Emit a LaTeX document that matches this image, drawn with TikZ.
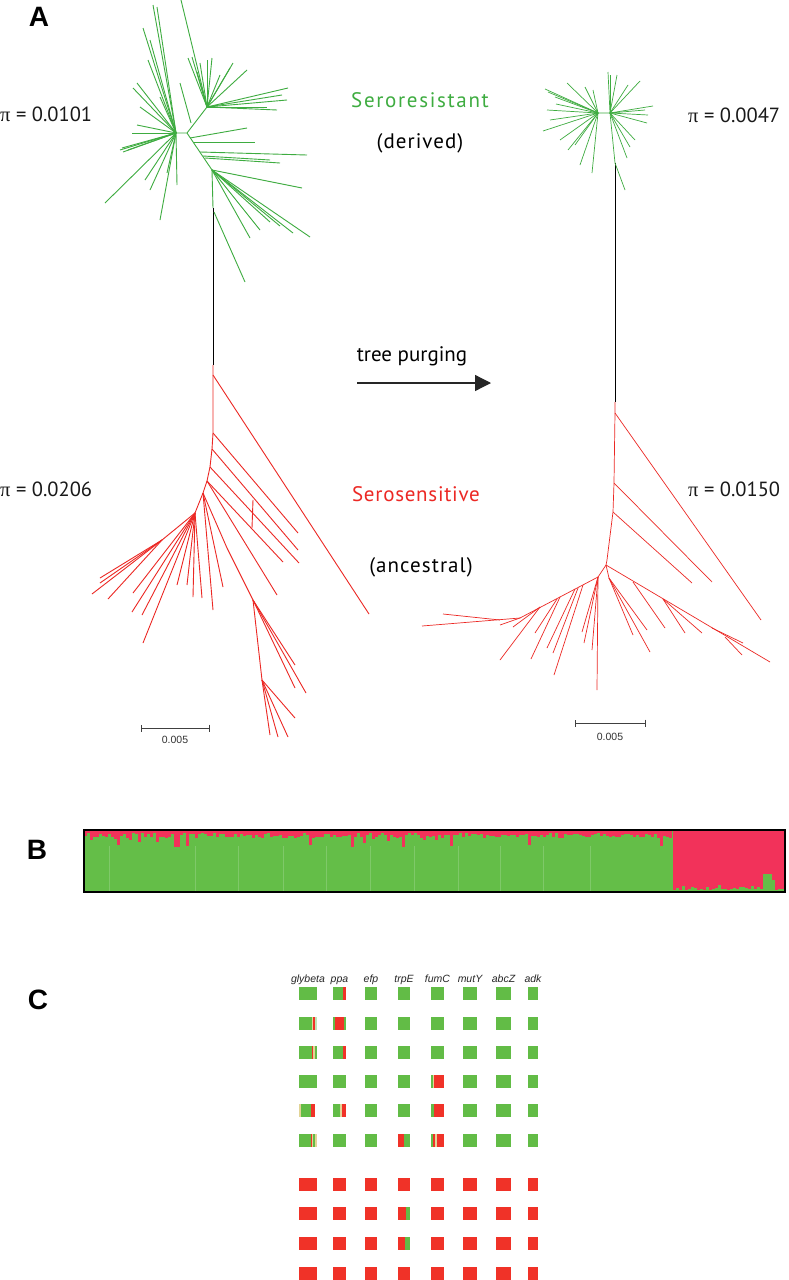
\documentclass[tikz,border=0pt]{standalone}
\usepackage{fontspec}
\setmainfont{PT Sans}
\newfontfamily\helv{Liberation Sans}
\newfontfamily\pifont{Liberation Serif}
\newfontfamily\wideA[LetterSpace=8]{PT Sans}
\newfontfamily\wideB[LetterSpace=5]{PT Sans}
\newfontfamily\wideC[LetterSpace=3.5]{PT Sans}
\usetikzlibrary{arrows.meta}

\definecolor{trgreen}{RGB}{62,172,64}
\definecolor{trred}{RGB}{236,40,36}
\definecolor{bgreen}{RGB}{100,190,72}
\definecolor{bred}{RGB}{242,50,90}
\definecolor{cgreen}{RGB}{98,188,70}
\definecolor{cred}{RGB}{240,50,40}
\definecolor{cbeige}{RGB}{226,212,150}

\newcommand{\piv}{{\pifont π}}

\begin{document}
\begin{tikzpicture}[x=1pt, y=-1pt,
  gbr/.style    = {trgreen, line width=0.9pt},
  rbr/.style    = {trred, line width=0.9pt},
  gbrt/.style   = {trgreen, line width=0.7pt},
  rbrt/.style   = {trred, line width=0.7pt},
  stem/.style   = {black, line width=0.9pt},
  purge/.style  = {-{Triangle[length=16pt,width=16pt]}, line width=1.3pt, black!85},
  sbar/.style   = {{Bar[width=7pt]}-{Bar[width=7pt]}, line width=1pt, black!75},
  sblab/.style  = {font=\helv\fontsize{10.5}{12}\selectfont, text=black!80, inner sep=0pt},
  pilab/.style  = {font=\fontsize{20.5}{24}\selectfont, text=black!90, inner sep=0pt},
  grp/.style    = {font=\fontsize{21}{24}\selectfont, inner sep=0pt},
  panel/.style  = {font=\helv\bfseries\fontsize{28}{30}\selectfont, inner sep=0pt},
  gene/.style   = {font=\helv\itshape\fontsize{10.5}{12}\selectfont, text=black!85,
                   inner sep=0pt, anchor=base}]
\useasboundingbox[fill=white] (0,0) rectangle (788,1280);

% ---------------- panel A ----------------
\node[panel] (pA) at (39,17) {A};

% left tree, seroresistant clade
\coordinate (gA) at (176,133);
\coordinate (gB) at (187,133);
\coordinate (gC) at (207,107);
\coordinate (gD) at (212,170);
\coordinate (gE) at (213,208);
\coordinate (rA) at (213,365);
\draw[gbr] (gA) -- (gB) -- (gC) -- (181,0);
\draw[gbr] (gB) -- (gD) -- (gE);
\draw[stem] (gE) -- (rA);
\foreach \p in {(288,88),(287,100),(277,110),(267,107),(247,70),(233,63),(230,68),
                (220,75),(212,58),(207,60),(200,63),(192,57),(188,58),(197,72),(282,95)}
  \draw[gbr] (gC) -- \p;
\foreach \p in {(153,5),(157,7),(143,28),(148,60),(160,97),(133,88),(137,83),(120,150),
                (137,125),(135,133),(132,133),(140,107),(150,40),(128,150)}
  \draw[gbr] (gA) -- \p;
\foreach \p in {(105,203),(160,220),(177,185),(145,180),(123,152),(167,173),(122,148),(150,190)}
  \draw[gbr] (gA) -- \p;
\draw[gbr] (191,123) -- (180,83);
\foreach \a/\b/\c/\d in {190/138/247/128, 193/142/255/142, 200/152/307/155,
                         205/158/280/163, 203/156/270/160}
  \draw[gbr] (\a,\b) -- (\c,\d);
\foreach \p in {(302,188),(310,237),(293,233),(250,238),(260,230),(270,222),(280,226)}
  \draw[gbr] (gD) -- \p;
\draw[gbr] (214,212) -- (245,282);

% left tree, serosensitive clade
\coordinate (rA2) at (213,375);
\coordinate (rB) at (213,433);
\coordinate (rC) at (212,449);
\coordinate (rD) at (210,467);
\coordinate (rE) at (207,481);
\coordinate (rF) at (203,493);
\coordinate (rG) at (195,513);
\coordinate (rH) at (227,548);
\coordinate (rI) at (253,600);
\coordinate (rJ) at (262,680);
\coordinate (rK) at (162,540);
\draw[rbr] (rA) -- (rB) -- (rC) -- (rD) -- (rE) -- (rF) -- (rG);
\draw[rbr] (rA2) -- (369,614);
\draw[rbr] (rB) -- (298,533);
\draw[rbr] (rC) -- (298,550);
\draw[rbr] (rD) -- (299,563);
\draw[rbr] (rE) -- (283,562);
\draw[rbr] (rE) -- (277,595);
\draw[rbr] (253,500) -- (252,528);
\draw[rbr] (rF) -- (rH) -- (rI) -- (rJ);
\foreach \p in {(295,665),(306,693),(295,688)} \draw[rbr] (rI) -- \p;
\foreach \p in {(295,718),(288,737),(278,737),(270,735)} \draw[rbr] (rJ) -- \p;
\foreach \p in {(223,587),(213,610)} \draw[rbr] (rF) -- \p;
\foreach \p in {(202,598),(193,597),(187,585),(177,585),(143,643),(142,615),(132,612),(133,593)}
  \draw[rbr] (rG) -- \p;
\draw[rbr] (rG) -- (rK) -- (92,594);
\foreach \p in {(108,599),(100,578),(100,583)} \draw[rbr] (rK) -- \p;

\draw[sbar] (141,728) -- (210,728);
\node[sblab] (sL) at (175,740) {0.005};

% right tree, seroresistant clade
\coordinate (hA) at (598,113);
\coordinate (hB) at (610,113);
\coordinate (hC) at (615,163);
\coordinate (sA) at (615,402);
\draw[gbrt] (hA) -- (hB) -- (hC);
\draw[stem] (hC) -- (sA);
\foreach \p in {(545,89),(547,110),(543,131),(568,150),(592,173),(567,83),(585,87),(593,90),
                (555,97),(550,120),(560,140),(580,165),(548,92),(575,145),(556,104)}
  \draw[gbrt] (hA) -- \p;
\foreach \p in {(608,72),(610,75),(617,75),(640,81),(653,106),(645,110),(647,123),(630,147),
                (627,158),(635,140),(628,85),(648,115)}
  \draw[gbrt] (hB) -- \p;
\draw[gbrt] (615,163) -- (625,190);

% right tree, serosensitive clade
\coordinate (sB) at (615,413);
\coordinate (sC) at (614,483);
\coordinate (sD) at (613,512);
\coordinate (sE) at (607,560);
\coordinate (sF) at (606,565);
\coordinate (sG) at (609,578);
\coordinate (sH) at (598,577);
\coordinate (sI) at (520,618);
\draw[rbrt] (sA) -- (sB) -- (sC) -- (sD) -- (sE) -- (sF);
\draw[rbrt] (sB) -- (761,620);
\draw[rbrt] (sC) -- (712,582);
\draw[rbrt] (sD) -- (692,583);
\draw[rbrt] (sF) -- (sG);
\foreach \p in {(633,635),(650,652),(647,630)} \draw[rbrt] (sG) -- \p;
\draw[rbrt] (sF) -- (770,662);
\foreach \a/\b/\c/\d in {633/582/665/628, 663/599/685/633, 663/599/702/633,
                         712/628/743/643, 725/637/742/655}
  \draw[rbrt] (\a,\b) -- (\c,\d);
\draw[rbrt] (sF) -- (sH) -- (sI) -- (422,626);
\foreach \p in {(597,690),(592,650),(584,643),(582,632)} \draw[rbrt] (sH) -- \p;
\foreach \a/\b/\c/\d in {583/585/554/675, 578/588/553/653, 575/589/547/648,
                         560/597/531/659, 557/599/535/633, 540/607/500/660,
                         540/607/513/627, 520/618/500/625, 500/620/443/614}
  \draw[rbrt] (\a,\b) -- (\c,\d);

\draw[sbar] (575,723) -- (646,723);
\node[sblab] (sR) at (610,737) {0.005};

% labels and purging arrow
\node[pilab, anchor=west] (piA) at (0,114)   {\piv\ = 0.0101};
\node[pilab, anchor=west] (piB) at (0,489)   {\piv\ = 0.0206};
\node[pilab, anchor=west] (piC) at (688,115) {\piv\ = 0.0047};
\node[pilab, anchor=west] (piD) at (688,489) {\piv\ = 0.0150};

\node[grp, text=trgreen] (res) at (420,100) {\wideA Seroresistant};
\node[grp] (der) at (420,143) {\wideB (derived)};
\node[grp, text=trred] (sen) at (416,494) {\wideC Serosensitive};
\node[grp] (anc) at (421,567) {\wideB (ancestral)};

\node[grp] (tp) at (412,356) {tree purging};
\coordinate (purgeS) at (357,383);
\coordinate (purgeE) at (491,383);
\draw[purge] (purgeS) -- (purgeE);

% ---------------- panel B ----------------
\node[panel] (pB) at (37,850) {B};
\fill[bgreen] (84,830) rectangle (673,892);
\fill[bred] (673,830) rectangle (785,892);
\pgfmathsetseed{17}
\foreach \i in {0,...,195} {
  \pgfmathsetmacro\xa{84+3*\i}
  \pgfmathsetmacro\h{rnd<0.12 ? 9+9*rnd : 3+5*rnd}
  \fill[bred] (\xa,830) rectangle (\xa+3,830+\h);
}
\foreach \i in {0,...,36} {
  \pgfmathsetmacro\xa{673+3*\i}
  \pgfmathsetmacro\h{rnd<0.2 ? 4+4*rnd : 2+2*rnd}
  \fill[bgreen] (\xa,892-\h) rectangle (\xa+3,892);
}
\fill[bgreen] (763,874) rectangle (772,892);
\fill[bgreen] (772,880) rectangle (775,892);
\foreach \x in {109,195,238,283,326,370,414,458,500,543,590}
  \draw[white, opacity=0.18, line width=0.6pt] (\x,846) -- (\x,892);
\draw[black, line width=2.4pt] (84,830) rectangle (785,892);

% ---------------- panel C ----------------
\node[panel] (pC) at (38,1000) {C};
\foreach \x/\w/\n in {299/18/glybeta,333/13/ppa,365/12/efp,398/12/trpE,
                      431/13/fumC,463/14/mutY,496/15/abcZ,528/10/adk} {
  \node[gene] (g-\n) at (\x+\w/2,982) {\n};
  \foreach \y in {987,1017,1046,1075,1104,1134}
    \fill[cgreen] (\x,\y) rectangle ++(\w,13);
  \foreach \y in {1178,1207,1237,1267}
    \fill[cred] (\x,\y) rectangle ++(\w,13);
}
% mixed loci
\fill[cred] (343.3,987) rectangle (346,1000);
\fill[cbeige] (311.7,1017) rectangle (313.3,1030);
\fill[cred] (313.3,1017) rectangle (315.2,1030);
\fill[white!60!cgreen] (315.2,1017) rectangle (317,1030);
\fill[cred] (334.5,1017) rectangle (343.5,1030);
\fill[cred] (312,1046) rectangle (313.3,1059);
\fill[cbeige] (313.3,1046) rectangle (314.7,1059);
\fill[cred] (343.3,1046) rectangle (345.5,1059);
\fill[cbeige] (432.5,1075) rectangle (434,1088);
\fill[cred] (434,1075) rectangle (444,1088);
\fill[cbeige] (299,1104) rectangle (300.7,1117);
\fill[cred] (311,1104) rectangle (315.2,1117);
\fill[white] (315.2,1104) rectangle (317.2,1117);
\fill[cbeige] (340,1104) rectangle (341.7,1117);
\fill[cred] (341.7,1104) rectangle (346,1117);
\fill[cred] (434.3,1104) rectangle (444,1117);
\fill[cred] (310.7,1134) rectangle (312,1147);
\fill[cbeige] (312,1134) rectangle (313.3,1147);
\fill[cbeige] (315,1134) rectangle (317,1147);
\fill[cred] (398,1134) rectangle (404,1147);
\fill[cred] (433.3,1134) rectangle (435.3,1147);
\fill[cbeige] (435.3,1134) rectangle (437,1147);
\fill[cred] (437,1134) rectangle (444,1147);
\fill[cgreen] (405.7,1207) rectangle (410,1220);
\fill[cgreen] (405,1237) rectangle (410,1250);

\end{tikzpicture}
\end{document}
